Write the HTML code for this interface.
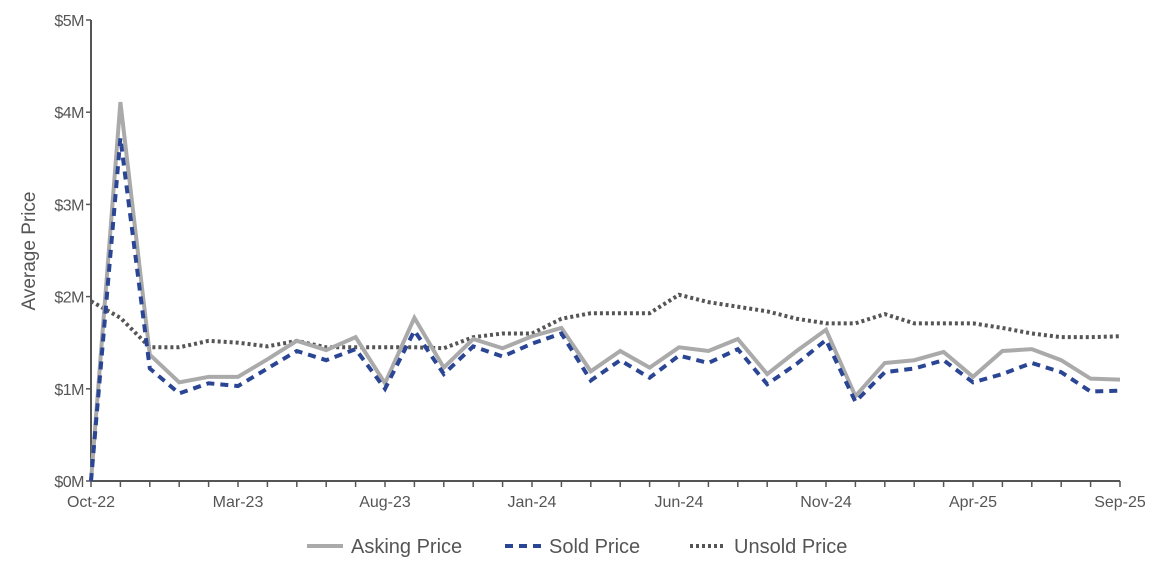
<!DOCTYPE html>
<html><head><meta charset="utf-8"><style>
body{margin:0;background:#fff;}
svg text{font-family:"Liberation Sans",sans-serif;fill:#555;}
</style></head><body>
<svg id="chart" width="1165" height="578"></svg>
<script>
const months=["Oct-22","Nov-22","Dec-22","Jan-23","Feb-23","Mar-23","Apr-23","May-23","Jun-23","Jul-23","Aug-23","Sep-23","Oct-23","Nov-23","Dec-23","Jan-24","Feb-24","Mar-24","Apr-24","May-24","Jun-24","Jul-24","Aug-24","Sep-24","Oct-24","Nov-24","Dec-24","Jan-25","Feb-25","Mar-25","Apr-25","May-25","Jun-25","Jul-25","Aug-25","Sep-25"];
const asking=[0,4.11,1.37,1.07,1.13,1.13,1.32,1.52,1.42,1.56,1.06,1.77,1.23,1.54,1.44,1.57,1.66,1.19,1.41,1.23,1.45,1.41,1.54,1.16,1.41,1.64,0.92,1.28,1.31,1.40,1.13,1.41,1.43,1.31,1.11,1.10];
const sold=[0,3.72,1.22,0.95,1.06,1.03,1.22,1.41,1.31,1.43,1.0,1.63,1.16,1.46,1.35,1.49,1.60,1.09,1.31,1.12,1.36,1.28,1.43,1.05,1.27,1.53,0.86,1.18,1.22,1.31,1.07,1.16,1.28,1.18,0.97,0.98];
const unsold=[1.95,1.77,1.45,1.45,1.52,1.50,1.46,1.52,1.45,1.45,1.45,1.45,1.44,1.56,1.60,1.60,1.76,1.82,1.82,1.82,2.02,1.94,1.89,1.84,1.76,1.71,1.71,1.81,1.71,1.71,1.71,1.66,1.60,1.56,1.56,1.57];
const yTicks=[0,1,2,3,4,5];
const yLabels=["$0M","$1M","$2M","$3M","$4M","$5M"];

const NS="http://www.w3.org/2000/svg";
const svg=document.getElementById('chart');
const X0=91,X1=1120,Y0=481,Y1=20;
const xs=i=>X0+(X1-X0)*i/(months.length-1);
const ys=v=>Y0-(Y0-Y1)*v/5;
function mk(t,a){const e=document.createElementNS(NS,t);for(const k in a)e.setAttribute(k,a[k]);svg.appendChild(e);return e;}

let ax=mk('line',{x1:X0,y1:Y1,x2:X0,y2:Y0,stroke:'#555','stroke-width':2});


ax=mk('line',{x1:X0,y1:Y0,x2:X1,y2:Y0,stroke:'#555','stroke-width':2});



yTicks.forEach((v,i)=>{
  mk('line',{x1:X0-5,y1:ys(v),x2:X0,y2:ys(v),stroke:'#555','stroke-width':1.5});
  const t=mk('text',{x:X0-7,y:ys(v)+6,'text-anchor':'end','font-size':16,'letter-spacing':'-0.5'});
  t.textContent=yLabels[i];
  
  
});
months.forEach((m,i)=>{
  mk('line',{x1:xs(i),y1:Y0,x2:xs(i),y2:Y0+6,stroke:'#555','stroke-width':1.5});
  if(i%5===0||i===months.length-1){
    const t=mk('text',{x:xs(i),y:Y0+26,'text-anchor':'middle','font-size':16});
    t.textContent=m;
    
    
  }
});
const yt=mk('text',{x:35,y:251,'text-anchor':'middle','font-size':19,transform:'rotate(-90 35 251)'});
yt.textContent='Average Price';



function series(d,style,name){
  const p=mk('polyline',Object.assign({points:d.map((v,i)=>xs(i)+','+ys(v)).join(' '),fill:'none','stroke-linejoin':'miter'},style));
  
  
}
const sUn={stroke:'#555','stroke-width':4,'stroke-dasharray':'3,3'};
const sAsk={stroke:'#aaa','stroke-width':4};
const sSold={stroke:'#2a4594','stroke-width':4,'stroke-dasharray':'8,6'};
series(unsold,sUn,'unsold-price-line');
series(asking,sAsk,'asking-price-line');
series(sold,sSold,'sold-price-line');

const leg=[["Asking Price",sAsk,307],["Sold Price",sSold,505],["Unsold Price",sUn,690]];
leg.forEach(l=>{
  const g=mk('line',Object.assign({x1:l[2],y1:546,x2:l[2]+36,y2:546},l[1]));
  
  
  const t=mk('text',{x:l[2]+44,y:553,'font-size':20});
  t.textContent=l[0];
  
  
});
</script>
</body></html>
